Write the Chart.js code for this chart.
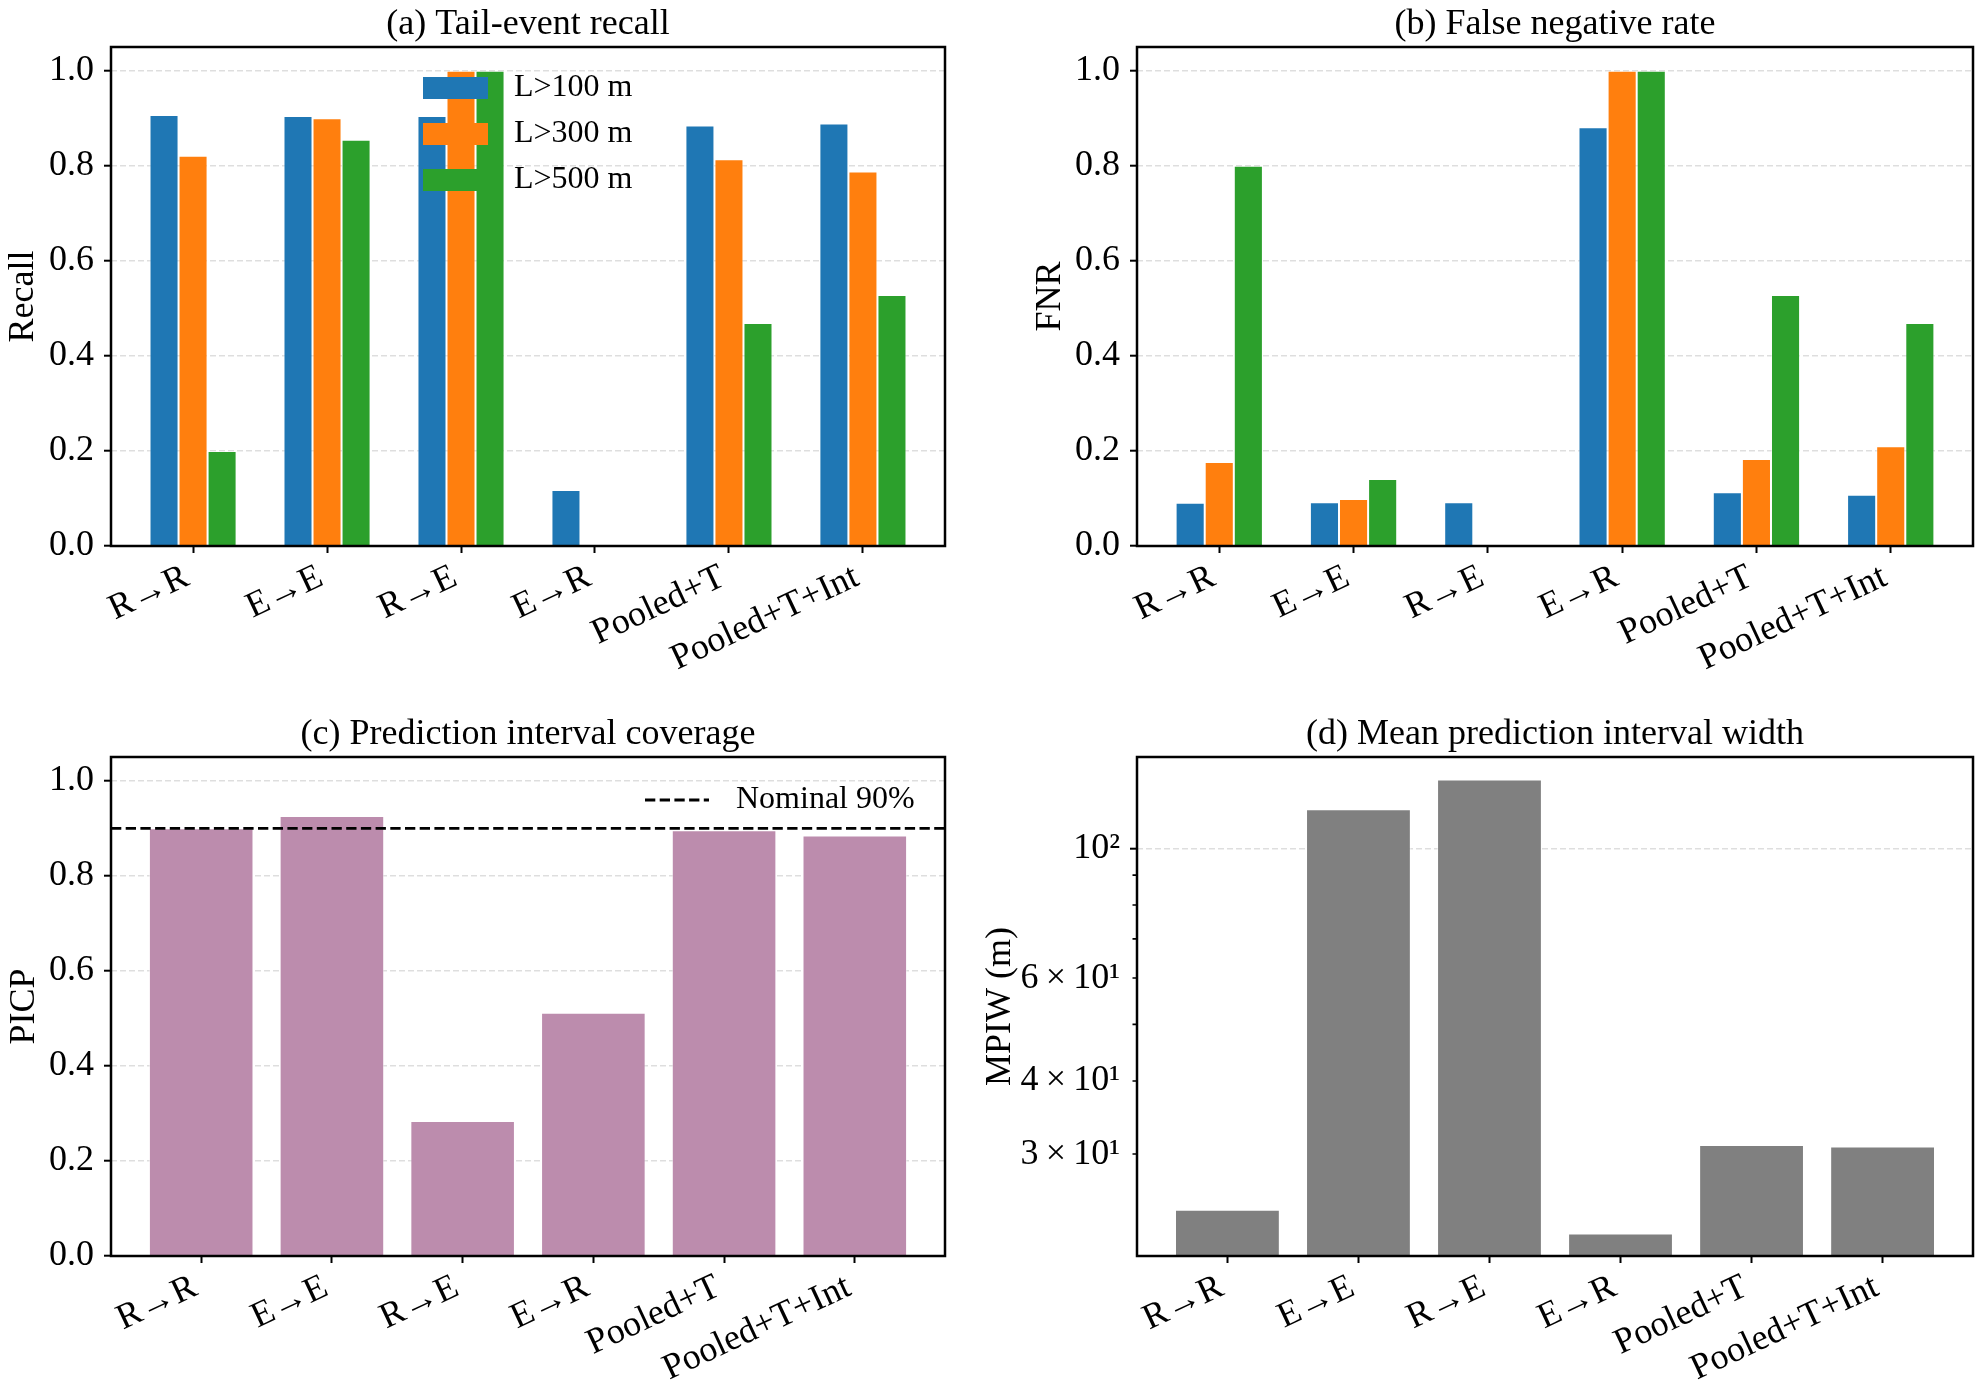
<!DOCTYPE html>
<html>
<head>
<meta charset="utf-8">
<title>Tail-event metrics</title>
<script src="https://cdn.jsdelivr.net/npm/chart.js@4.4.1/dist/chart.umd.min.js"></script>
<style>
    html, body { margin: 0; padding: 0; background: #fff; }
    #wrap { position: relative; width: 1982px; height: 1390px; overflow: hidden; }
    #wrap canvas { position: absolute; }
</style>
</head>
<body>
<div id="wrap">
    <canvas id="recallChart" width="991" height="695" style="left:0;top:0"></canvas>
    <canvas id="fnrChart" width="991" height="695" style="left:991px;top:0"></canvas>
    <canvas id="picpChart" width="991" height="695" style="left:0;top:695px"></canvas>
    <canvas id="mpiwChart" width="1022" height="695" style="left:960px;top:695px"></canvas>
</div>
<script>
// Data
const methods = ['R→R', 'E→E', 'R→E', 'E→R', 'Pooled+T', 'Pooled+T+Int'];
const thresholds = ['L>100 m', 'L>300 m', 'L>500 m'];

const recall100 = [0.907, 0.905, 0.905, 0.118, 0.885, 0.889];
const recall300 = [0.821, 0.900, 1.000, 0.000, 0.814, 0.788];
const recall500 = [0.200, 0.855, 1.000, 0.000, 0.469, 0.528];

const fnr100 = [0.091, 0.092, 0.092, 0.881, 0.113, 0.108];
const fnr300 = [0.177, 0.099, 0.000, 1.000, 0.183, 0.210];
const fnr500 = [0.800, 0.141, 0.000, 1.000, 0.528, 0.469];

const picp = [0.900, 0.926, 0.284, 0.512, 0.896, 0.885];
const nominalCoverage = 0.9;

const mpiw = [24.1, 116.6, 131.1, 21.95, 31.1, 30.9];

// Tick labels
const unitTicks = [0, 0.2, 0.4, 0.6, 0.8, 1.0];
const mpiwTickValues = [30, 40, 50, 60, 70, 80, 90, 100];
const mpiwTickLabels = ['3\u2009×\u200910¹', '4\u2009×\u200910¹', '', '6\u2009×\u200910¹', '', '', '', '10²'];

document.addEventListener('DOMContentLoaded', () => {
    const FONT = "'Liberation Serif', 'Times New Roman', serif";
    const GRID = 'rgba(160,160,160,0.35)';
    const thresholdColors = ['#1f77b4', '#ff7f0e', '#2ca02c'];

    Chart.defaults.font.family = FONT;
    Chart.defaults.font.size = 36;
    Chart.defaults.color = '#000';

    // Panel title, centred on the plot area
    const panelTitle = {
        id: 'panelTitle',
        afterDraw(chart, args, opts) {
            const { ctx, chartArea: a } = chart;
            ctx.save();
            ctx.font = '36px ' + FONT;
            ctx.fillStyle = '#000';
            ctx.textAlign = 'center';
            ctx.textBaseline = 'alphabetic';
            ctx.fillText(opts.text, (a.left + a.right) / 2, a.top - 13);
            ctx.restore();
        }
    };

    // Black box round the plot area
    const framePlugin = {
        id: 'frame',
        afterDraw(chart) {
            const { ctx, chartArea: a } = chart;
            ctx.save();
            ctx.strokeStyle = '#000';
            ctx.lineWidth = 2.5;
            ctx.strokeRect(a.left, a.top, a.right - a.left, a.bottom - a.top);
            ctx.restore();
        }
    };

    // Frameless legend sitting on top of the bars (panel a)
    const thresholdLegend = {
        id: 'thresholdLegend',
        afterDatasetsDraw(chart) {
            const { ctx, chartArea: a } = chart;
            ctx.save();
            ctx.font = '32px ' + FONT;
            ctx.textBaseline = 'middle';
            chart.data.datasets.forEach((ds, i) => {
                const y = a.top + 41 + i * 46;
                ctx.fillStyle = ds.backgroundColor;
                ctx.fillRect(a.left + 312, y - 11, 65, 22);
                ctx.fillStyle = '#000';
                ctx.fillText(ds.label, a.left + 403, y);
            });
            ctx.restore();
        }
    };

    // Dashed nominal line + its legend (panel c)
    const nominalLine = {
        id: 'nominalLine',
        afterDatasetsDraw(chart) {
            const { ctx, chartArea: a, scales } = chart;
            const py = scales.y.getPixelForValue(nominalCoverage);
            const ly = a.top + 43;
            ctx.save();
            ctx.strokeStyle = '#000';
            ctx.lineWidth = 2.8;
            ctx.setLineDash([10.3, 4.4]);
            ctx.beginPath();
            ctx.moveTo(a.left, py);
            ctx.lineTo(a.right, py);
            ctx.moveTo(a.left + 534, ly);
            ctx.lineTo(a.left + 598, ly);
            ctx.stroke();
            ctx.setLineDash([]);
            ctx.font = '32px ' + FONT;
            ctx.fillStyle = '#000';
            ctx.textBaseline = 'middle';
            ctx.fillText('Nominal ' + Math.round(nominalCoverage * 100) + '%', a.left + 625, ly);
            ctx.restore();
        }
    };

    // Short minor ticks on the log axis (panel d)
    const minorTicks = {
        id: 'minorTicks',
        afterDraw(chart) {
            const { ctx, chartArea: a, scales } = chart;
            ctx.save();
            ctx.strokeStyle = '#000';
            ctx.lineWidth = 1.6;
            ctx.beginPath();
            mpiwTickValues.forEach(v => {
                if (v === 100) return;
                const py = scales.y.getPixelForValue(v);
                ctx.moveTo(a.left - 4.5, py);
                ctx.lineTo(a.left, py);
            });
            ctx.stroke();
            ctx.restore();
        }
    };

    function xScale(span, height) {
        return {
            type: 'linear',
            min: -span,
            max: methods.length - 1 + span,
            offset: false,
            afterBuildTicks: s => { s.ticks = methods.map((_, i) => ({ value: i })); },
            afterFit: s => { s.height = height; },
            ticks: {
                callback: v => methods[v],
                minRotation: 25,
                maxRotation: 25,
                autoSkip: false,
                padding: 3,
                labelOffset: -6
            },
            grid: { offset: false, drawOnChartArea: false, tickLength: 7, tickColor: '#000', tickWidth: 2 },
            border: { display: false }
        };
    }

    function unitYScale(label, width, titlePad) {
        return {
            min: 0,
            max: 1.05,
            afterBuildTicks: s => { s.ticks = unitTicks.map(v => ({ value: v })); },
            afterFit: s => { s.width = width; },
            ticks: { callback: v => v.toFixed(1), padding: 10 },
            grid: { color: GRID, lineWidth: 1.4, tickLength: 7, tickColor: '#000', tickWidth: 2 },
            border: { display: false, dash: [6, 3] },
            title: { display: true, text: label, font: { size: 36 }, padding: { top: titlePad, bottom: 0 } }
        };
    }

    function baseOptions(title, top, padRight, scales) {
        return {
            responsive: false,
            devicePixelRatio: 1,
            animation: false,
            events: [],
            layout: { padding: { left: 0, right: padRight, top: top, bottom: 0 } },
            plugins: {
                legend: { display: false },
                tooltip: { enabled: false },
                title: { display: false },
                panelTitle: { text: title }
            },
            scales: scales
        };
    }

    function groupedSets(series) {
        return series.map((vals, i) => ({
            label: thresholds[i],
            data: vals.map((v, j) => ({ x: j, y: v })),
            backgroundColor: thresholdColors[i],
            borderColor: 'rgba(255,255,255,0.45)',
            borderWidth: 1,
            categoryPercentage: 0.65,
            barPercentage: 1.0
        }));
    }

    // (a) Tail-event recall
    new Chart(document.getElementById('recallChart'), {
        type: 'bar',
        data: { datasets: groupedSets([recall100, recall300, recall500]) },
        options: baseOptions('(a) Tail-event recall', 47, 46, {
            x: xScale(0.6125, 149),
            y: unitYScale('Recall', 111, 2)
        }),
        plugins: [thresholdLegend, framePlugin, panelTitle]
    });

    // (b) False negative rate
    new Chart(document.getElementById('fnrChart'), {
        type: 'bar',
        data: { datasets: groupedSets([fnr100, fnr300, fnr500]) },
        options: baseOptions('(b) False negative rate', 47, 9, {
            x: xScale(0.6125, 149),
            y: unitYScale('FNR', 146, 38)
        }),
        plugins: [framePlugin, panelTitle]
    });

    // (c) Prediction interval coverage
    new Chart(document.getElementById('picpChart'), {
        type: 'bar',
        data: {
            datasets: [{
                label: 'PICP',
                data: picp.map((v, j) => ({ x: j, y: v })),
                backgroundColor: '#bc8cad',
                borderColor: 'rgba(255,255,255,0.45)',
                borderWidth: 1,
                categoryPercentage: 0.8,
                barPercentage: 1.0
            }]
        },
        options: baseOptions('(c) Prediction interval coverage', 62, 46, {
            x: xScale(0.69, 134),
            y: unitYScale('PICP', 111, 3)
        }),
        plugins: [nominalLine, framePlugin, panelTitle]
    });

    // (d) Mean prediction interval width, log axis
    new Chart(document.getElementById('mpiwChart'), {
        type: 'bar',
        data: {
            datasets: [{
                label: 'MPIW',
                data: mpiw.map((v, j) => ({ x: j, y: v })),
                backgroundColor: '#808080',
                borderColor: 'rgba(255,255,255,0.45)',
                borderWidth: 1,
                categoryPercentage: 0.8,
                barPercentage: 1.0
            }]
        },
        options: baseOptions('(d) Mean prediction interval width', 62, 9, {
            x: xScale(0.69, 134),
            y: {
                type: 'logarithmic',
                min: 20.08,
                max: 143.3,
                afterBuildTicks: s => { s.ticks = mpiwTickValues.map(v => ({ value: v })); },
                afterFit: s => { s.width = 177; },
                ticks: {
                    autoSkip: false,
                    padding: 10,
                    callback: v => mpiwTickLabels[mpiwTickValues.indexOf(v)]
                },
                grid: {
                    color: c => (c.tick && c.tick.value === 100 ? GRID : 'rgba(0,0,0,0)'),
                    lineWidth: 1.4,
                    tickLength: 7,
                    tickWidth: 2,
                    tickColor: c => (c.tick && c.tick.value === 100 ? '#000' : 'rgba(0,0,0,0)')
                },
                border: { display: false, dash: [6, 3] },
                title: { display: true, text: 'MPIW (m)', font: { size: 36 }, padding: { top: 19, bottom: 0 } }
            }
        }),
        plugins: [minorTicks, framePlugin, panelTitle]
    });
});
</script>
</body>
</html>
